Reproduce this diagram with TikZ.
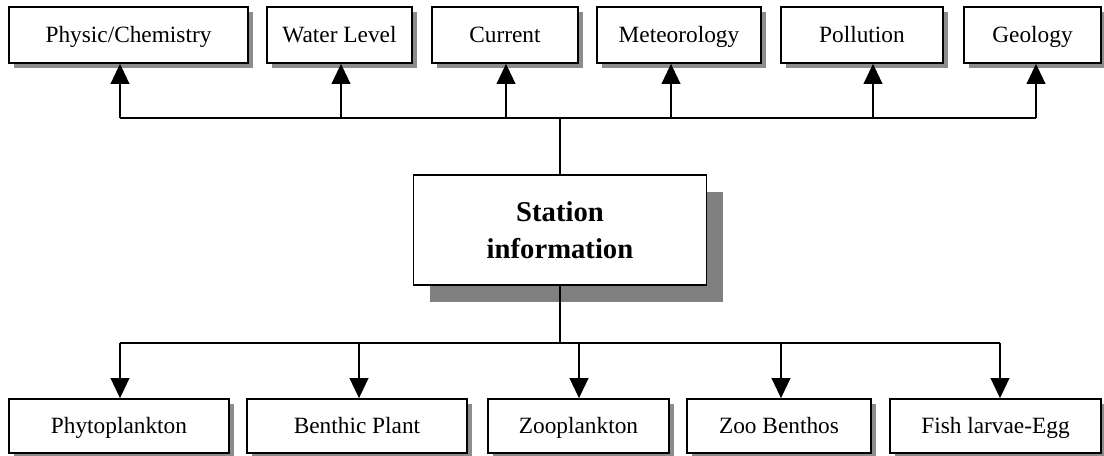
\documentclass[tikz,border=0pt]{standalone}
\usepackage{fontspec}
\setmainfont{Liberation Serif}
\usepackage{tikz}
\usetikzlibrary{arrows.meta, positioning, calc, shadows}
\tikzstyle{arrow} = [line width=1.3pt,-{Triangle[length=15pt,width=14pt]}]
\tikzstyle{line} = [line width=1.3pt]
\tikzstyle{box} = [draw,line width=1.3pt,fill=white,inner sep=0pt,text height=13.5pt,text depth=3pt,general shadow={fill=black!45,shadow xshift=3.75pt,shadow yshift=-3.75pt},font=\fontsize{17.5}{20}\selectfont]
\tikzstyle{topbox} = [box,minimum height=42pt]
\tikzstyle{botbox} = [box,minimum height=40.5pt]
\tikzstyle{mainbox} = [draw,line width=1.3pt,fill=white,align=center,minimum width=219.75pt,minimum height=82.5pt,general shadow={fill=black!50,shadow xshift=12pt,shadow yshift=-12.75pt},font=\fontsize{21.5}{27.75}\selectfont\bfseries]

\begin{document}
\begin{tikzpicture}[x=0.75pt,y=-0.75pt]
    \useasboundingbox (0,0) rectangle (1104,455);
    \node[topbox,minimum width=179.25pt](t_1) at (128.5,35) {Physic/Chemistry};
    \node[topbox,minimum width=108.75pt](t_2) at (339.5,35) {Water Level};
    \node[topbox,minimum width=109.5pt](t_3) at (505,35) {Current};
    \node[topbox,minimum width=123pt](t_4) at (679,35) {Meteorology};
    \node[topbox,minimum width=121.5pt](t_5) at (862,35) {Pollution};
    \node[topbox,minimum width=102.75pt](t_6) at (1032.5,35) {Geology};
    \node[mainbox](s_0) at (560,230) {Station\\information};
    \node[botbox,minimum width=165pt](b_1) at (119,426) {Phytoplankton};
    \node[botbox,minimum width=165pt](b_2) at (357,426) {Benthic Plant};
    \node[botbox,minimum width=135.75pt](b_3) at (578.5,426) {Zooplankton};
    \node[botbox,minimum width=138pt](b_4) at (779,426) {Zoo Benthos};
    \node[botbox,minimum width=158.25pt](b_5) at (995.5,426) {Fish larvae-Egg};
    \coordinate (u_1) at (120,118);
    \coordinate (u_2) at (341,118);
    \coordinate (u_3) at (506,118);
    \coordinate (u_4) at (671,118);
    \coordinate (u_5) at (873,118);
    \coordinate (u_6) at (1036,118);
    \coordinate (d_1) at (120,343);
    \coordinate (d_2) at (359,343);
    \coordinate (d_3) at (579,343);
    \coordinate (d_4) at (781,343);
    \coordinate (d_5) at (1000,343);
    \draw[line] (u_1) -- (u_6);
    \draw[line] (s_0.north) -- (s_0.north |- u_1);
    \draw[line] (d_1) -- (d_5);
    \draw[line] (s_0.south) -- (s_0.south |- d_1);
    \foreach \i in {1,...,6}
        \draw[arrow] (u_\i) -- (u_\i |- t_\i.south);
    \foreach \i in {1,...,5}
        \draw[arrow] (d_\i) -- (d_\i |- b_\i.north);
\end{tikzpicture}
\end{document}
